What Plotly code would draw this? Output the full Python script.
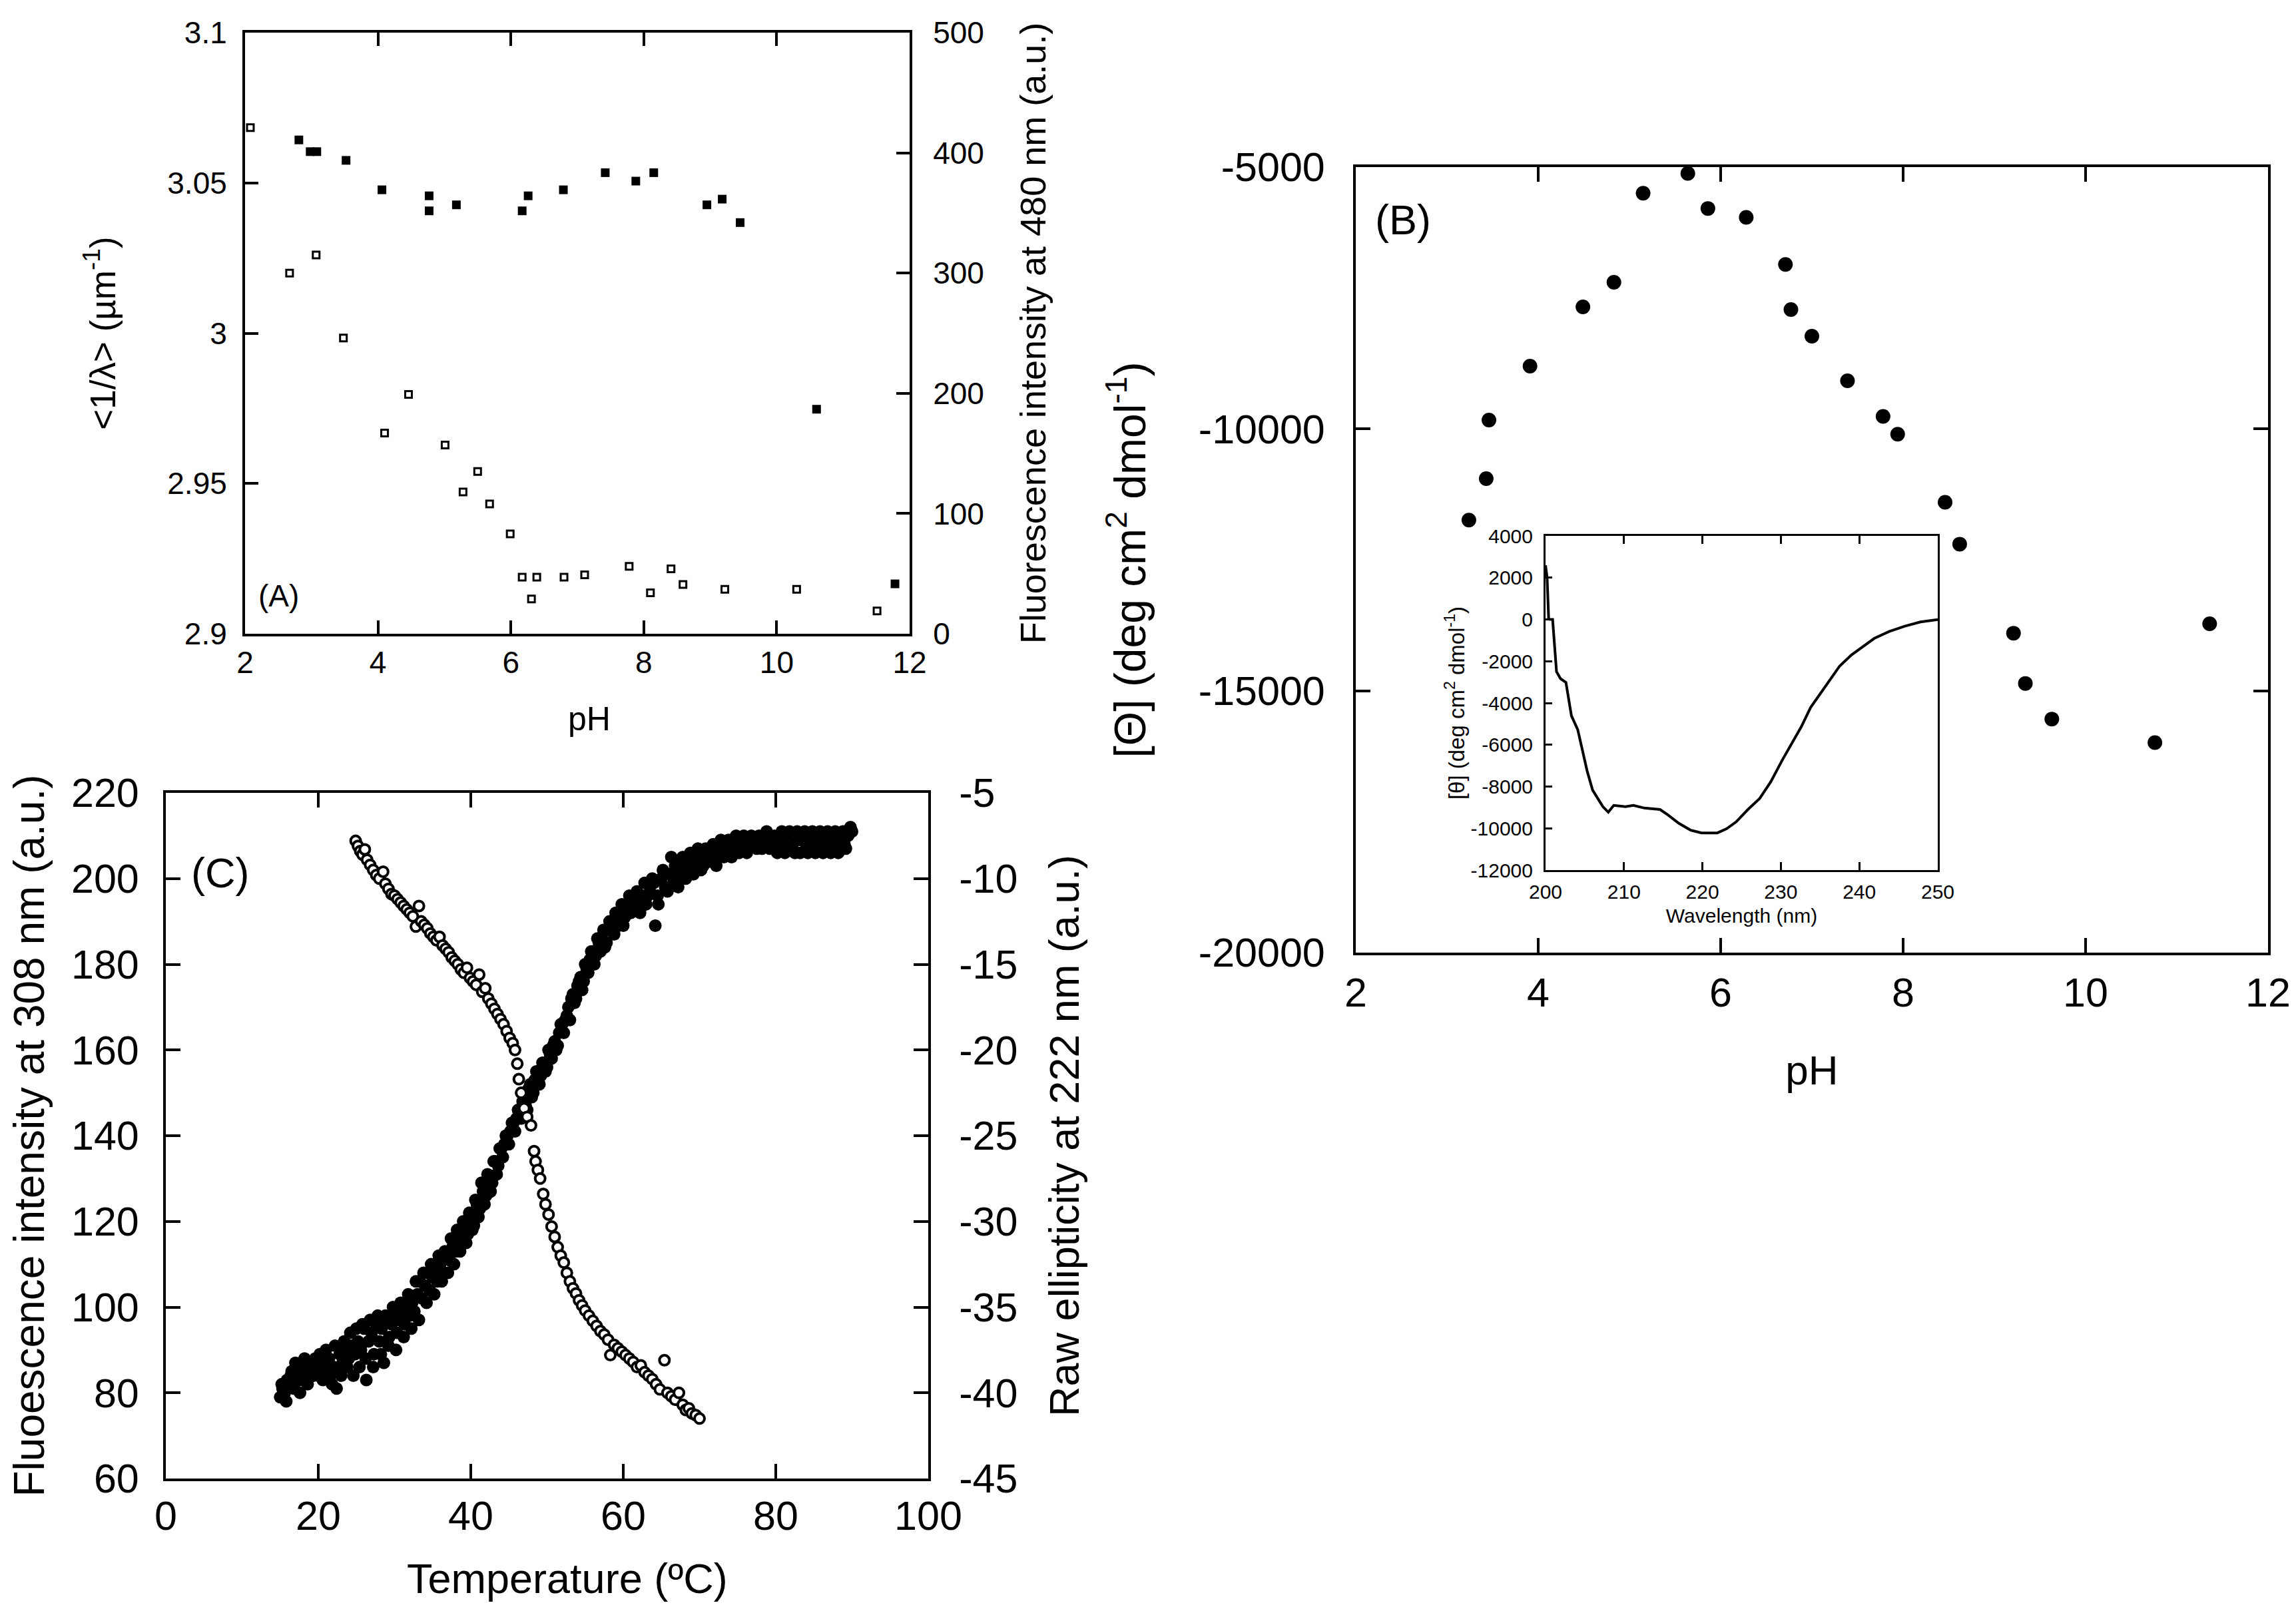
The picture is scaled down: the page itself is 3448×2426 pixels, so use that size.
import plotly.graph_objects as go

FONT = "Liberation Sans, Arial, sans-serif"
# page body has an 8px margin: keep the figure 16px smaller than the 3448x2426 window
W, H = 3432, 2410

# ---------------- Panel A ----------------
phA_lambda = [2.81, 2.98, 3.08, 3.52, 4.06, 4.77, 4.77, 5.18, 6.17, 6.26, 6.79, 7.42,
              7.88, 8.15, 8.95, 9.18, 9.45, 10.60, 11.78]
inv_lambda = [3.0643, 3.0604, 3.0604, 3.0575, 3.0477, 3.0457, 3.0407, 3.0427, 3.0407,
              3.0457, 3.0477, 3.0534, 3.0506, 3.0534, 3.0427, 3.0446, 3.0368, 2.9747, 2.9166]
phA_fluor = [2.08, 2.67, 3.07, 3.48, 4.10, 4.46, 5.01, 5.28, 5.50, 5.68, 5.99, 6.17,
             6.31, 6.39, 6.80, 7.11, 7.78, 8.10, 8.41, 8.59, 9.22, 10.30, 11.51]
fluor480 = [421, 300, 315, 246, 167, 199, 157, 118, 135, 108, 83, 47,
            29, 47, 47, 49, 56, 34, 54, 41, 37, 37, 19]

A_x_ticks = [2, 4, 6, 8, 10, 12]
A_yl_ticks = [2.9, 2.95, 3.0, 3.05, 3.1]
A_yl_text = ["2.9", "2.95", "3", "3.05", "3.1"]
A_yr_ticks = [0, 100, 200, 300, 400, 500]

# ---------------- Panel B ----------------
phB = [3.24, 3.43, 3.46, 3.91, 4.49, 4.83, 5.15, 5.64, 5.86, 6.28, 6.71, 6.77, 7.00,
       7.39, 7.78, 7.94, 8.46, 8.62, 9.21, 9.34, 9.63, 10.76, 11.36]
thetaB = [-11740, -10950, -9830, -8800, -7670, -7200, -5500, -5120, -5790, -5960, -6860,
          -7720, -8230, -9080, -9760, -10100, -11400, -12200, -13900, -14860, -15540,
          -15990, -13720]
B_x_ticks = [2, 4, 6, 8, 10, 12]
B_y_ticks = [-20000, -15000, -10000, -5000]
B_y_text = ["-20000", "-15000", "-10000", "-5000"]

# ---------------- Inset ----------------
wavelength = [200.0, 200.2, 200.4, 200.9, 201.4, 201.9, 202.6, 203.3, 204.1, 205.3, 206.0,
              207.3, 208.0, 208.7, 210.2, 211.2, 212.6, 214.6, 215.6, 217.0, 218.5, 219.9,
              221.9, 223.1, 224.3, 225.8, 227.3, 228.7, 230.2, 231.2, 232.6, 233.8, 235.0,
              236.3, 237.5, 239.0, 240.4, 241.9, 243.8, 245.8, 247.8, 250.0]
theta_spec = [2590, 2000, 10, 0, -2500, -2830, -3020, -4610, -5270, -7250, -8170,
              -8960, -9230, -8900, -8960, -8900, -9030, -9100, -9360, -9760, -10090, -10220,
              -10220, -10020, -9690, -9100, -8570, -7780, -6720, -6060, -5140, -4210, -3550,
              -2890, -2230, -1700, -1310, -910, -580, -320, -120, -10]
In_x_ticks = [200, 210, 220, 230, 240, 250]
In_y_ticks = [-12000, -10000, -8000, -6000, -4000, -2000, 0, 2000, 4000]
In_y_text = ["-12000", "-10000", "-8000", "-6000", "-4000", "-2000", "0", "2000", "4000"]

# ---------------- Panel C ----------------
temp_fluor = [15.0, 15.3, 15.6, 15.9, 16.2, 16.5, 16.8, 17.1, 17.4, 17.7, 18.0, 18.4, 18.8,
              19.2, 19.6, 20.0, 20.4, 20.8, 21.2, 21.6, 22.0, 22.4, 22.8, 23.2, 23.6, 24.0,
              24.4, 24.8, 25.2, 25.6, 26.0, 26.3, 26.6, 27.0, 27.3, 27.6, 28.0, 28.3, 28.6,
              29.0, 29.3, 29.6, 30.0, 30.3, 30.6, 31.0, 31.3, 31.6, 32.0, 32.3, 32.6, 33.0,
              33.3, 33.6, 34.0, 34.3, 34.6, 35.0, 35.3, 35.6, 36.0, 36.4, 36.8, 37.2, 37.6,
              38.0, 38.4, 38.8, 39.2, 39.6, 40.0, 40.4, 40.8, 41.2, 41.6, 42.0, 42.4, 42.8,
              43.2, 43.6, 44.0, 44.4, 44.8, 45.2, 45.6, 46.0, 46.4, 46.8, 47.2, 47.6, 48.0,
              48.4, 48.8, 49.2, 49.6, 50.0, 50.4, 50.8, 51.2, 51.6, 52.0, 52.4, 52.8, 53.2,
              53.6, 54.0, 54.4, 54.8, 55.2, 55.6, 56.0, 56.4, 56.8, 57.2, 57.6, 58.0, 58.4,
              58.8, 59.2, 59.6, 60.0, 60.5, 61.0, 61.5, 62.0, 62.5, 63.0, 63.5, 64.0, 64.2,
              64.5, 65.0, 65.5, 66.0, 66.3, 66.6, 67.0, 67.5, 68.0, 68.5, 69.0, 69.5, 70.0,
              70.5, 71.0, 71.5, 72.0, 72.5, 73.0, 73.5, 74.0, 74.5, 75.0, 75.5, 76.0, 76.5,
              77.0, 77.5, 78.0, 78.5, 79.0, 79.5, 80.0, 80.5, 81.0, 81.5, 82.0, 82.5, 83.0,
              83.5, 84.0, 84.5, 85.0, 85.5, 86.0, 86.5, 87.0, 87.5, 88.0, 88.5, 89.0, 89.5,
              90.0]
fluor308 = [79, 81, 80, 83, 82, 85, 81, 84, 86, 83, 85, 87, 84,
            86, 88, 84, 86, 85, 87, 84, 86, 81, 89, 87, 90, 88,
            91, 89, 92, 90, 95, 83, 92, 94, 89, 96, 92, 95, 87,
            97, 93, 96, 98, 94, 97, 99, 96, 100, 98, 101, 99, 103,
            106, 102, 105, 108, 104, 107, 109, 106, 110, 108, 112, 111, 114,
            113, 116, 115, 118, 117, 120, 119, 124, 123, 127, 126, 130, 129,
            134, 133, 137, 138, 140, 141, 143, 144, 146, 148, 147, 151, 149,
            153, 155, 154, 157, 156, 159, 161, 160, 164, 166, 167, 170, 172,
            171, 175, 177, 176, 179, 181, 183, 182, 185, 186, 184, 188, 189,
            187, 190, 192, 189, 193, 192, 195, 193, 196, 194, 197, 199, 189,
            196, 200, 198, 201, 205, 199, 202, 200, 203, 201, 204, 202, 205,
            203, 206, 204, 206, 205, 207, 206, 208, 206, 207, 209, 207, 208,
            209, 207, 209, 208, 210, 208, 209, 207, 209, 210, 208, 206, 209,
            210, 207, 209, 208, 210, 207, 209, 208, 210, 207, 209, 208, 210,
            211]
# second pass of the same scan (the noisy band is thicker than one row of points)
temp_fluor_2 = [15.2, 15.8, 16.4, 17.0, 17.6, 18.2, 18.6, 19.4, 19.8, 20.2, 20.6, 21.0, 21.4,
                21.8, 22.2, 22.6, 23.0, 23.4, 23.8, 24.2, 24.6, 25.0, 25.4, 25.8, 26.2, 26.8,
                27.2, 27.8, 28.2, 28.8, 29.2, 29.8, 30.2, 30.8, 31.2, 31.8, 32.2, 32.8, 33.2,
                33.8, 34.2, 34.8, 35.2, 35.8, 36.2, 36.6, 37.0, 37.4, 37.8, 38.2, 38.6, 39.0,
                39.4, 39.8, 40.2, 40.6, 41.0, 41.4, 41.8, 42.2, 42.6, 43.0, 43.4, 43.8, 44.2,
                44.6, 45.0, 45.4, 45.8, 46.2, 46.6, 47.0, 47.4, 47.8, 48.2, 48.6, 49.0, 49.4,
                49.8, 50.2, 50.6, 51.0, 51.4, 51.8, 52.2, 52.6, 53.0, 53.4, 53.8, 54.2, 54.6,
                55.0, 55.4, 55.8, 56.2, 56.6, 57.0, 57.4, 57.8, 58.2, 58.6, 59.0, 59.4, 59.8,
                60.2, 60.8, 61.2, 61.8, 62.2, 62.8, 63.2, 63.8, 64.6, 65.2, 65.8, 66.8, 67.2,
                67.8, 68.2, 68.8, 69.2, 69.8, 70.2, 70.8, 71.2, 71.8, 72.2, 72.8, 73.2, 73.8,
                74.2, 74.8, 75.2, 75.8, 76.2, 76.8, 77.2, 77.8, 78.2, 78.8, 79.2, 79.8, 80.2,
                80.8, 81.2, 81.8, 82.2, 82.8, 83.2, 83.8, 84.2, 84.8, 85.2, 85.8, 86.2, 86.8,
                87.2, 87.8, 88.2, 88.8, 89.2, 89.8]
fluor308_2 = [82, 78, 84, 87, 80, 88, 82, 84, 87, 89, 83, 90, 88,
              82, 91, 85, 84, 92, 86, 94, 84, 95, 86, 96, 88, 97,
              86, 98, 89, 98, 91, 100, 90, 101, 93, 103, 95, 106, 97,
              108, 101, 110, 103, 112, 106, 113, 108, 116, 110, 118, 113, 120,
              115, 122, 118, 125, 121, 129, 124, 131, 127, 134, 131, 137, 135,
              140, 138, 143, 141, 146, 144, 149, 146, 152, 150, 155, 152, 157,
              155, 160, 158, 162, 161, 166, 164, 168, 167, 173, 172, 176, 174,
              180, 178, 183, 180, 186, 183, 188, 185, 190, 189, 192, 189, 194,
              191, 196, 194, 197, 192, 199, 196, 200, 194, 202, 197, 203, 198,
              205, 200, 206, 201, 207, 202, 207, 204, 208, 203, 209, 205, 209,
              205, 210, 206, 210, 206, 210, 208, 210, 207, 211, 207, 210, 206,
              211, 206, 211, 207, 211, 206, 211, 206, 211, 206, 211, 206, 211,
              206, 211, 206, 211, 207, 212]
temp_ellip = [24.9, 25.2, 25.5, 25.8, 26.1, 26.4, 26.8, 27.2, 27.6, 28.0, 28.5, 28.8, 29.2,
              29.6, 30.0, 30.4, 30.8, 31.2, 31.6, 32.0, 32.4, 32.8, 33.2, 33.5, 33.9, 34.3,
              34.7, 35.1, 35.5, 35.9, 36.3, 36.7, 37.1, 37.5, 37.9, 38.3, 38.7, 39.1, 39.5,
              39.9, 40.3, 40.7, 41.1, 41.5, 41.9, 42.3, 42.7, 43.1, 43.5, 43.9, 44.3, 44.7,
              45.1, 45.5, 45.8, 46.1, 46.3, 46.6, 47.0, 47.4, 47.9, 48.3, 48.5, 48.8, 49.1,
              49.5, 49.8, 50.2, 50.6, 51.0, 51.4, 51.8, 52.2, 52.6, 53.0, 53.4, 53.8, 54.2,
              54.6, 55.0, 55.5, 56.0, 56.5, 57.0, 57.5, 58.0, 58.3, 58.8, 59.3, 59.8, 60.3,
              60.8, 61.3, 61.8, 62.3, 62.8, 63.3, 63.8, 64.3, 64.8, 65.4, 65.8, 66.3, 66.8,
              67.3, 67.8, 68.2, 68.6, 69.0, 69.5, 70.0]
ellip222 = [-7.8, -8.1, -8.4, -8.6, -8.3, -8.9, -9.2, -9.5, -9.8, -10.0, -9.6, -10.3, -10.6,
            -10.9, -11.0, -11.2, -11.4, -11.6, -11.8, -12.0, -12.2, -12.8, -11.6, -12.5, -12.7, -12.9,
            -13.2, -13.4, -13.6, -13.4, -13.9, -14.1, -14.3, -14.6, -14.8, -15.0, -15.3, -15.5, -15.2,
            -15.8, -16.0, -16.2, -15.6, -16.6, -16.4, -17.0, -17.3, -17.6, -17.9, -18.2, -18.5, -18.9,
            -19.3, -19.6, -20.0, -20.8, -21.7, -22.5, -23.4, -23.9, -24.4, -25.9, -26.5, -27.0, -27.5,
            -28.4, -29.0, -29.6, -30.3, -30.9, -31.5, -32.0, -32.4, -33.0, -33.5, -33.9, -34.2, -34.6,
            -34.9, -35.2, -35.5, -35.8, -36.1, -36.4, -36.6, -36.9, -37.8, -37.2, -37.4, -37.6, -37.8,
            -38.0, -38.2, -38.5, -38.4, -38.8, -39.0, -39.2, -39.5, -39.8, -38.1, -40.0, -40.2, -40.4,
            -40.0, -40.7, -41.0, -40.9, -41.2, -41.3, -41.5]
C_x_ticks = [0, 20, 40, 60, 80, 100]
C_yl_ticks = [60, 80, 100, 120, 140, 160, 180, 200, 220]
C_yr_ticks = [-45, -40, -35, -30, -25, -20, -15, -10, -5]
C_yr_text = ["-45", "-40", "-35", "-30", "-25", "-20", "-15", "-10", "-5"]


def hdom(a, b):
    return [a / W, b / W]


def vdom(top, bottom):
    return [1 - bottom / H, 1 - top / H]


def style(fs, ticklen, lw, lblgap):
    return dict(showline=True, linecolor="black", linewidth=lw, ticks="inside",
                ticklen=ticklen, tickwidth=lw, tickcolor="black", showgrid=False,
                zeroline=False, ticklabelstandoff=lblgap, automargin=False,
                ticklabeloverflow="allow",
                tickfont=dict(family=FONT, size=fs, color="black"))


def ttl(text, fs, standoff):
    return dict(text=text, font=dict(family=FONT, size=fs, color="black"), standoff=standoff)


def label(text, x, y, fs):
    return dict(text=text, x=x / W, y=1 - y / H, xref="paper", yref="paper",
                xanchor="center", yanchor="middle", showarrow=False,
                font=dict(family=FONT, size=fs, color="black"))


fig = go.Figure()

# Panel A
fig.add_trace(go.Scatter(x=phA_lambda, y=inv_lambda, mode="markers", xaxis="x", yaxis="y",
                         marker=dict(symbol="square", size=13, color="black")))
fig.add_trace(go.Scatter(x=phA_fluor, y=fluor480, mode="markers", xaxis="x", yaxis="y2",
                         marker=dict(symbol="square", size=10, color="white",
                                     line=dict(color="black", width=3))))
# Panel B
fig.add_trace(go.Scatter(x=phB, y=thetaB, mode="markers", xaxis="x3", yaxis="y3",
                         marker=dict(symbol="circle", size=22, color="black")))
# Inset
fig.add_trace(go.Scatter(x=wavelength, y=theta_spec, mode="lines", xaxis="x4", yaxis="y4",
                         line=dict(color="black", width=4)))
# Panel C
fig.add_trace(go.Scatter(x=temp_fluor + temp_fluor_2, y=fluor308 + fluor308_2, mode="markers",
                         xaxis="x5", yaxis="y5",
                         marker=dict(symbol="circle", size=19, color="black")))
fig.add_trace(go.Scatter(x=temp_ellip, y=ellip222, mode="markers", xaxis="x5", yaxis="y6",
                         marker=dict(symbol="circle", size=15, color="white",
                                     line=dict(color="black", width=4))))

fsA, fsB, fsC, fsI = 46, 61, 61, 30

fig.update_layout(
    width=W, height=H, autosize=False,
    margin=dict(l=0, r=0, t=0, b=0, pad=0, autoexpand=False),
    paper_bgcolor="white", plot_bgcolor="white", showlegend=False,
    font=dict(family=FONT, color="black"),
    # ---- A ----
    xaxis=dict(**style(fsA, 20, 4, 0), domain=hdom(360, 1358), anchor="y", range=[2, 12],
               tickvals=A_x_ticks, mirror="ticks"),
    yaxis=dict(**style(fsA, 20, 4, 14), domain=vdom(41, 944), anchor="x", range=[2.9, 3.1],
               tickvals=A_yl_ticks, ticktext=A_yl_text, mirror=True,
               title=ttl("&lt;1/λ&gt; (µm<sup>-1</sup>)", 53, 62)),
    yaxis2=dict(**style(fsA, 20, 4, 22), overlaying="y", side="right", anchor="x",
                range=[0, 500], tickvals=A_yr_ticks,
                title=ttl("Fluorescence intensity at 480 nm (a.u.)", 54, 56)),
    # ---- B ----
    xaxis3=dict(**style(fsB, 22, 4, 4), domain=hdom(2028, 3398), anchor="y3", range=[2, 12],
                tickvals=B_x_ticks, mirror="ticks", title=ttl("pH", 62, 62)),
    yaxis3=dict(**style(fsB, 22, 4, 30), domain=vdom(243, 1423), anchor="x3",
                range=[-20000, -5000], tickvals=B_y_ticks, ticktext=B_y_text, mirror="ticks",
                title=ttl("[Θ] (deg cm<sup>2</sup> dmol<sup>-1</sup>)", 66, 59)),
    # ---- inset ----
    xaxis4=dict(**style(fsI, 12, 3, 4), domain=hdom(2313, 2902), anchor="y4",
                range=[200, 250], tickvals=In_x_ticks, mirror="ticks",
                title=ttl("Wavelength (nm)", fsI, 10)),
    yaxis4=dict(**style(fsI, 10, 3, 10), domain=vdom(797, 1299), anchor="x4",
                range=[-12000, 4000], tickvals=In_y_ticks, ticktext=In_y_text, mirror=True,
                title=ttl("[θ] (deg cm<sup>2</sup> dmol<sup>-1</sup>)", 33, 0)),
    # ---- C ----
    xaxis5=dict(**style(fsC, 22, 4, 0), domain=hdom(241, 1386), anchor="y5", range=[0, 100],
                tickvals=C_x_ticks, mirror="ticks"),
    yaxis5=dict(**style(fsC, 22, 4, 24), domain=vdom(1183, 2213), anchor="x5",
                range=[60, 220], tickvals=C_yl_ticks, mirror=True,
                title=ttl("Fluoescence intensity at 308 nm (a.u.)", 64, 27)),
    yaxis6=dict(**style(fsC, 22, 4, 30), overlaying="y5", side="right", anchor="x5",
                range=[-45, -5], tickvals=C_yr_ticks, ticktext=C_yr_text,
                title=ttl("Raw ellipticity at 222 nm (a.u.)", 63, 50)),
    annotations=[
        label("(A)", 410, 887, fsA),
        label("(B)", 2099, 322, 63),
        label("(C)", 322, 1303, 63),
        # x-axis titles of A and C sit slightly right of the axis centre in the original
        label("pH", 877, 1072, 50),
        label("Temperature (ºC)", 844, 2363, 63),
    ],
)

fig.write_html("out.html")
